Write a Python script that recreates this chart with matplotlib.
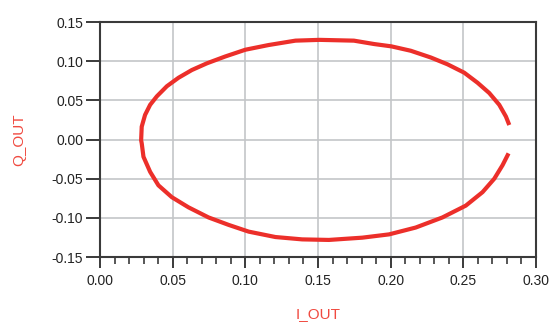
import matplotlib
matplotlib.use("Agg")
import matplotlib.pyplot as plt
from matplotlib.ticker import MultipleLocator

# Curve (top half, right -> left, then bottom half, left -> right)
i_top = [0.2816, 0.2793, 0.2747, 0.2678, 0.2598, 0.2506, 0.2391, 0.2276, 0.2138,
         0.2005, 0.1885, 0.1747, 0.1510, 0.1345, 0.1160, 0.1000, 0.0862, 0.0736,
         0.0632, 0.0540, 0.0460, 0.0391, 0.0345, 0.0310, 0.0287, 0.0283]
q_top = [0.0185, 0.0293, 0.0443, 0.0594, 0.0724, 0.0853, 0.0960, 0.1047, 0.1133,
         0.1189, 0.1219, 0.1262, 0.1272, 0.1262, 0.1206, 0.1146, 0.1060, 0.0973,
         0.0887, 0.0788, 0.0680, 0.0551, 0.0443, 0.0314, 0.0164, -0.0010]
i_bot = [0.0283, 0.0287, 0.0299, 0.0345, 0.0402, 0.0494, 0.0609, 0.0747, 0.0885,
         0.1023, 0.1207, 0.1391, 0.1575, 0.1805, 0.1989, 0.2172, 0.2356, 0.2517,
         0.2632, 0.2713, 0.2770, 0.2811]
q_bot = [-0.0010, -0.0048, -0.0220, -0.0413, -0.0585, -0.0736, -0.0866, -0.0995, -0.1090,
         -0.1176, -0.1245, -0.1275, -0.1282, -0.1253, -0.1211, -0.1124, -0.0995, -0.0844,
         -0.0672, -0.0500, -0.0327, -0.0177]

x_ticks = [0.00, 0.05, 0.10, 0.15, 0.20, 0.25, 0.30]
y_ticks = [-0.15, -0.10, -0.05, 0.00, 0.05, 0.10, 0.15]

plt.rcParams['font.family'] = ['Liberation Sans', 'DejaVu Sans']

fig = plt.figure(figsize=(5.51, 3.25), dpi=100)
ax = fig.add_axes([0.1815, 0.2092, 0.7913, 0.7231])

ax.plot(i_top + i_bot[1:], q_top + q_bot[1:], color='#ec2f2a', lw=3.0,
        solid_capstyle='butt', solid_joinstyle='round', zorder=3)

ax.set_xlim(0.0, 0.30)
ax.set_ylim(-0.15, 0.15)
ax.set_xticks(x_ticks)
ax.set_yticks(y_ticks)
ax.set_xticklabels([f"{v:.2f}" for v in x_ticks])
ax.set_yticklabels([f"{v:.2f}" for v in y_ticks])
ax.xaxis.set_minor_locator(MultipleLocator(0.01))

ax.grid(True, which='major', color='#c4c6c8', lw=1.2, zorder=0)
ax.set_axisbelow(True)

for s in ax.spines.values():
    s.set_color('#3a3a3a')
    s.set_linewidth(1.5)

ax.tick_params(axis='x', which='major', direction='out', length=8, width=1.4,
               color='#3a3a3a', labelsize=10, pad=4, labelcolor='#222222')
ax.tick_params(axis='x', which='minor', direction='out', length=5, width=1.2,
               color='#3a3a3a')
ax.tick_params(axis='y', which='major', direction='out', length=10, width=1.4,
               color='#3a3a3a', labelsize=10, pad=2, labelcolor='#222222')

ax.set_xlabel('I_OUT', color='#f04a40', fontsize=11, labelpad=14)
ax.set_ylabel('Q_OUT', color='#f04a40', fontsize=11, labelpad=18)

fig.savefig('out.png', dpi=100)
